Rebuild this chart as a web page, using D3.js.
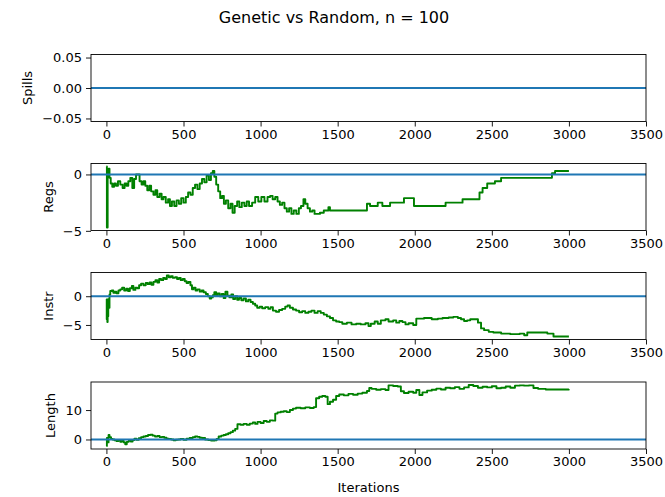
<!DOCTYPE html>
<html><head><meta charset="utf-8">
<script src="https://cdn.jsdelivr.net/npm/d3@7"></script>
<style>body{margin:0;background:#fff}svg{display:block}text{font-family:"DejaVu Sans",sans-serif;fill:#000}</style>
</head><body><svg id="c" width="665" height="497"></svg>
<script>
const title = "Genetic vs Random, n = 100";
const xLabel = "Iterations";
const panelNames = ["Spills", "Regs", "Instr", "Length"];
const xTicks = [0, 500, 1000, 1500, 2000, 2500, 3000, 3500];
const xLimits = [-100, 3500];
const yTicksSpills = [-0.05, 0, 0.05];
const yTickLabelsSpills = ["\u22120.05", "0.00", "0.05"];
const yTicksRegs = [-5, 0];
const yTickLabelsRegs = ["\u22125", "0"];
const yTicksInstr = [-5, 0];
const yTickLabelsInstr = ["\u22125", "0"];
const yTicksLength = [0, 10];
const yTickLabelsLength = ["0", "10"];

const spillsData = [[0,0],[3000,0]];
const regsData = [[0,0.7],[3,-4.7],[8,0.3],[14,0.5],[20,-0.3],[28,-0.8],[38,-1.1],[50,-0.8],[62,-1.0],[75,-0.6],[90,-0.9],[105,-1.2],[118,-0.8],[130,-1.0],[142,-0.6],[155,-0.3],[168,-1.2],[180,-0.4],[192,0.0],[205,0.0],[215,-0.6],[228,-0.9],[240,-0.6],[252,-1.0],[265,-1.4],[278,-1.0],[290,-1.5],[305,-1.8],[318,-1.4],[330,-2.0],[345,-1.7],[358,-2.2],[370,-2.0],[385,-2.5],[400,-2.2],[412,-2.8],[425,-2.4],[440,-2.8],[455,-2.3],[470,-2.6],[485,-2.1],[500,-2.5],[515,-2.0],[530,-1.6],[545,-1.8],[560,-1.2],[575,-0.9],[590,-1.3],[605,-0.8],[620,-0.4],[635,-0.7],[650,-0.1],[665,-0.5],[678,0.1],[690,0.3],[700,-0.2],[712,-0.9],[725,-1.5],[738,-2.1],[750,-1.9],[762,-2.6],[775,-2.3],[790,-3.0],[805,-2.6],[818,-3.4],[832,-2.8],[848,-2.4],[862,-2.9],[878,-2.5],[895,-2.8],[910,-2.4],[925,-2.8],[945,-2.5],[965,-2.0],[985,-2.4],[1005,-2.0],[1025,-2.4],[1045,-2.0],[1062,-1.9],[1078,-2.2],[1095,-2.0],[1110,-2.4],[1125,-2.7],[1140,-2.5],[1155,-3.0],[1170,-3.3],[1185,-3.0],[1200,-3.5],[1215,-3.2],[1232,-3.5],[1248,-3.0],[1262,-2.8],[1278,-2.2],[1290,-2.6],[1305,-3.0],[1320,-3.3],[1335,-3.2],[1350,-3.5],[1385,-3.4],[1410,-3.2],[1440,-2.9],[1450,-3.2],[1690,-2.6],[1710,-2.8],[1760,-2.5],[1790,-2.8],[1840,-2.5],[1930,-2.1],[1995,-2.8],[2200,-2.5],[2310,-2.2],[2420,-1.6],[2440,-1.2],[2470,-0.8],[2520,-0.6],[2560,-0.3],[2890,0.1],[2910,0.3],[3000,0.3]];
const instrData = [[0,-0.5],[2,-4.0],[4,-1.0],[6,-4.5],[8,-0.8],[10,-3.5],[12,-0.5],[16,-2.0],[20,0.3],[25,0.9],[35,1.0],[45,0.6],[55,0.8],[65,0.5],[78,1.0],[90,1.2],[102,1.5],[115,1.0],[128,1.3],[140,0.9],[152,1.4],[165,1.8],[175,1.1],[188,1.5],[200,1.4],[212,1.9],[225,2.2],[240,1.9],[255,2.3],[268,2.1],[280,2.4],[292,2.0],[305,2.5],[318,2.8],[330,2.4],[342,3.0],[355,2.8],[368,3.2],[380,3.0],[392,3.6],[405,3.3],[418,3.5],[430,3.2],[445,3.3],[458,3.0],[470,3.2],[482,2.8],[495,3.0],[508,2.6],[520,2.3],[532,2.5],[545,1.9],[555,1.2],[565,1.5],[578,1.0],[590,1.2],[605,0.8],[618,1.0],[630,0.7],[645,0.4],[658,0.0],[670,-0.4],[680,-0.2],[690,0.2],[700,0.7],[712,0.1],[722,0.5],[735,0.0],[748,0.4],[760,-0.3],[772,0.8],[785,0.1],[798,-0.2],[810,0.3],[822,-0.5],[835,0.0],[848,-0.6],[860,-0.3],[875,-0.7],[890,-0.4],[905,-0.9],[920,-0.6],[935,-1.0],[950,-1.3],[965,-1.6],[978,-2.0],[995,-1.8],[1010,-2.1],[1030,-1.9],[1050,-2.2],[1065,-1.9],[1080,-2.5],[1100,-2.7],[1120,-2.4],[1140,-2.2],[1160,-1.8],[1175,-1.6],[1190,-2.0],[1210,-2.3],[1230,-2.5],[1250,-2.8],[1270,-2.6],[1290,-2.9],[1310,-2.7],[1330,-2.5],[1350,-2.9],[1370,-2.6],[1390,-2.9],[1410,-3.2],[1430,-3.5],[1450,-3.8],[1470,-4.2],[1490,-4.4],[1510,-4.5],[1530,-4.8],[1560,-4.6],[1590,-4.9],[1620,-4.8],[1650,-4.9],[1680,-4.7],[1700,-5.2],[1715,-4.8],[1740,-4.4],[1760,-4.8],[1780,-4.2],[1810,-4.0],[1830,-4.4],[1860,-4.2],[1880,-4.6],[1900,-4.3],[1920,-4.5],[1940,-4.9],[1960,-4.7],[1990,-5.0],[2010,-3.9],[2060,-3.8],[2110,-4.0],[2150,-3.9],[2180,-3.8],[2220,-3.7],[2250,-3.6],[2280,-3.8],[2300,-4.0],[2320,-4.3],[2340,-4.2],[2360,-4.0],[2390,-4.0],[2410,-4.6],[2430,-5.6],[2450,-5.9],[2480,-6.2],[2510,-6.3],[2560,-6.5],[2620,-6.6],[2680,-6.5],[2710,-6.8],[2730,-6.3],[2860,-6.5],[2900,-7.0],[3000,-7.0]];
const lengthData = [[0,-2.2],[3,0.5],[8,-1.0],[14,1.5],[20,0.8],[30,0.2],[40,0.0],[52,-0.3],[65,-0.5],[78,-0.2],[90,-0.8],[100,-0.5],[112,-1.0],[122,-1.6],[132,-0.8],[145,-0.4],[158,-0.7],[170,-0.2],[182,0.3],[195,-0.1],[210,0.4],[225,0.8],[240,1.0],[255,1.2],[270,1.5],[285,1.6],[300,1.3],[315,1.0],[330,1.2],[345,0.8],[360,0.9],[375,0.6],[390,0.3],[405,0.2],[420,0.0],[435,-0.3],[450,-0.1],[465,0.0],[480,0.2],[500,-0.1],[520,0.3],[540,0.5],[560,0.8],[575,1.0],[590,0.9],[605,0.6],[620,0.5],[640,0.0],[660,-0.2],[680,-0.4],[700,-0.3],[715,0.2],[728,1.0],[745,1.3],[760,1.5],[775,1.8],[790,2.1],[805,2.5],[820,3.0],[835,3.6],[850,5.2],[870,5.0],[890,5.3],[910,5.0],[930,5.4],[950,5.8],[965,5.3],[980,6.0],[1000,5.6],[1020,6.3],[1040,6.0],[1060,6.5],[1080,6.4],[1095,8.8],[1110,9.2],[1130,9.4],[1150,9.6],[1170,9.3],[1190,10.0],[1210,10.5],[1230,10.8],[1260,10.6],[1290,10.9],[1320,10.7],[1345,11.0],[1360,14.0],[1380,14.5],[1400,14.8],[1420,14.5],[1435,12.0],[1450,12.8],[1470,13.5],[1490,14.8],[1510,15.3],[1540,15.0],[1570,15.5],[1600,15.2],[1630,15.6],[1660,15.9],[1690,16.5],[1705,17.5],[1720,17.2],[1750,16.9],[1780,17.1],[1810,16.8],[1830,18.4],[1860,18.2],[1890,18.0],[1910,16.4],[1930,15.8],[1960,16.2],[1990,15.9],[2010,16.8],[2030,15.1],[2050,16.0],[2080,16.6],[2110,16.9],[2140,17.3],[2170,17.0],[2200,17.6],[2230,17.4],[2260,17.8],[2290,17.2],[2320,17.7],[2350,18.5],[2380,18.2],[2410,17.6],[2440,17.9],[2470,17.7],[2500,18.1],[2530,17.4],[2560,17.6],[2590,18.0],[2620,17.6],[2650,18.3],[2680,18.4],[2710,18.3],[2740,18.4],[2770,17.5],[2800,17.2],[2850,17.0],[3000,17.1]];

const panels = [
  {name: panelNames[0], data: spillsData, ticks: yTicksSpills, labels: yTickLabelsSpills, fixed: [-0.055, 0.055]},
  {name: panelNames[1], data: regsData, ticks: yTicksRegs, labels: yTickLabelsRegs},
  {name: panelNames[2], data: instrData, ticks: yTicksInstr, labels: yTickLabelsInstr},
  {name: panelNames[3], data: lengthData, ticks: yTicksLength, labels: yTickLabelsLength}
];

const svg = d3.select("#c");
const L = 91, R = 646, H = 67, tops = [54.5, 163.5, 272.5, 382];
const x = d3.scaleLinear().domain(xLimits).range([L, R]);
const FS = 13;

svg.append("text").attr("x", 334).attr("y", 23).attr("text-anchor", "middle")
  .style("font-size", "16px").text(title);

panels.forEach((p, i) => {
  const top = tops[i], bottom = top + H;
  let dom;
  if (p.fixed) dom = p.fixed;
  else {
    const ext = d3.extent(p.data.map(d => d[1]).concat([0]));
    const m = (ext[1] - ext[0]) * 0.05;
    dom = [ext[0] - m, ext[1] + m];
  }
  const y = d3.scaleLinear().domain(dom).range([bottom, top]);
  const g = svg.append("g");
  g.append("clipPath").attr("id", "clip" + i).append("rect")
    .attr("x", L).attr("y", top).attr("width", R - L).attr("height", H);
  const plot = g.append("g").attr("clip-path", `url(#clip${i})`);
  const line = d3.line().x(d => x(d[0])).y(d => y(d[1])).curve(d3.curveStepAfter);
  plot.append("path").datum(p.data).attr("d", line).attr("fill", "none")
    .attr("stroke", "#008000").attr("stroke-width", 1.9).attr("stroke-linejoin", "round");
  plot.append("line").attr("x1", L).attr("x2", R).attr("y1", y(0)).attr("y2", y(0))
    .attr("stroke", "#1f77b4").attr("stroke-width", 2);
  const xa = g.append("g").attr("transform", `translate(0,${bottom})`)
    .call(d3.axisBottom(x).tickValues(xTicks).tickSize(5).tickPadding(3).tickFormat(d3.format("d")));
  const ya = g.append("g").attr("transform", `translate(${L},0)`)
    .call(d3.axisLeft(y).tickValues(p.ticks).tickSize(5).tickPadding(4).tickFormat((d, k) => p.labels[k]));
  [xa, ya].forEach(a => {
    a.select(".domain").remove();
    a.selectAll("text").style("font-size", FS + "px").attr("fill", "#000").style("font-family", '"DejaVu Sans",sans-serif');
    a.selectAll("line").attr("stroke", "#000").attr("stroke-width", 0.9);
  });
  g.append("rect").attr("x", L).attr("y", top).attr("width", R - L).attr("height", H)
    .attr("fill", "none").attr("stroke", "#000").attr("stroke-width", 0.9);
  let minX = L;
  ya.selectAll("text").each(function () { minX = Math.min(minX, this.getBBox().x + L); });
  svg.append("text").attr("transform", `translate(${minX - 10},${(top + bottom) / 2}) rotate(-90)`)
    .attr("text-anchor", "middle").style("font-size", FS + "px").text(p.name);
  if (i === 3) {
    svg.append("text").attr("x", (L + R) / 2).attr("y", 492).attr("text-anchor", "middle")
      .style("font-size", FS + "px").text(xLabel);
  }
});
</script></body></html>
